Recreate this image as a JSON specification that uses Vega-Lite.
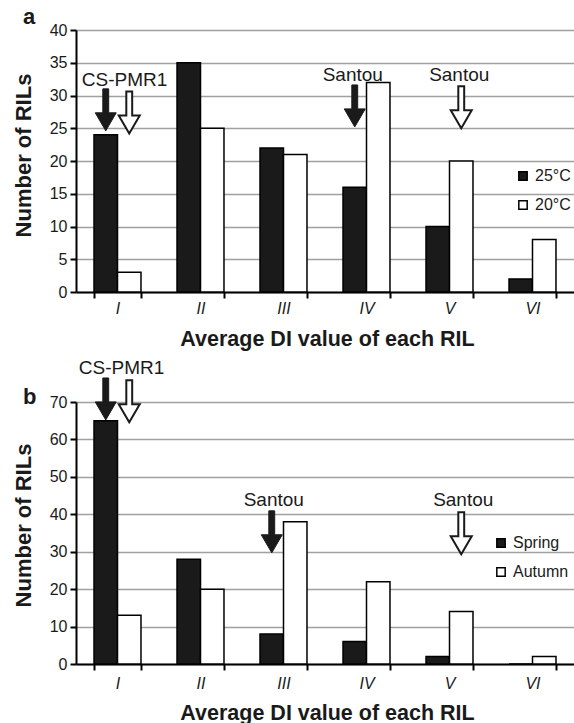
{
  "$schema": "https://vega.github.io/schema/vega-lite/v6.json",
  "background": "white",
  "padding": {"left": 12, "top": 6, "right": 0, "bottom": 0},
  "bounds": "flush",
  "spacing": 110,
  "resolve": {
    "scale": {"x": "independent", "xOffset": "independent", "y": "independent", "fill": "independent"},
    "axis": {"x": "independent", "y": "independent"},
    "legend": {"fill": "independent"}
  },
  "config": {
    "font": "Liberation Sans",
    "view": {"stroke": null},
    "axis": {
      "domainColor": "black", "domainWidth": 2, "tickColor": "black", "tickWidth": 2, "tickSize": 6,
      "labelColor": "#1a1a1a", "titleColor": "#1a1a1a", "labelFontSize": 16, "labelFont": "Liberation Sans", "titleFont": "Liberation Sans"
    },
    "legend": {
      "orient": "none", "title": null, "symbolType": "square", "symbolSize": 70, "symbolStrokeColor": "black",
      "symbolStrokeWidth": 1.5, "labelFontSize": 16, "labelColor": "#1a1a1a", "rowPadding": 13, "labelOffset": 4
    }
  },
  "vconcat": [
    {
      "width": 498, "height": 262,
      "title": {"text": "a", "anchor": "start", "frame": "group", "dx": -53, "offset": -24, "fontSize": 22, "fontWeight": "bold", "baseline": "alphabetic", "color": "#1a1a1a"},
      "encoding": {
        "x": {"field": "cls", "type": "nominal", "sort": ["I", "II", "III", "IV", "V", "VI"],
          "scale": {"paddingInner": 0.434, "paddingOuter": 0.217},
          "axis": {"title": "Average DI value of each RIL", "titleFontSize": 21.5, "titleFontWeight": "bold", "titlePadding": 12, "titleX": 251,
            "labelFontStyle": "italic", "labelAngle": 0, "labelPadding": 2, "tickBand": "extent", "grid": false}},
        "y": {"field": "count", "type": "quantitative", "scale": {"domain": [0, 40], "nice": false},
          "axis": {"title": "Number of RILs", "titleFontSize": 22, "titleFontWeight": "bold", "titlePadding": 14, "titleY": 125,
            "values": [0, 5, 10, 15, 20, 25, 30, 35, 40], "labelOverlap": false, "labelPadding": 3, "grid": true, "gridColor": "#a0a0a0", "gridWidth": 1.5}}
      },
      "layer": [
        {
          "data": {"values": [
            {"cls": "I", "series": "25°C", "count": 24}, {"cls": "I", "series": "20°C", "count": 3},
            {"cls": "II", "series": "25°C", "count": 35}, {"cls": "II", "series": "20°C", "count": 25},
            {"cls": "III", "series": "25°C", "count": 22}, {"cls": "III", "series": "20°C", "count": 21},
            {"cls": "IV", "series": "25°C", "count": 16}, {"cls": "IV", "series": "20°C", "count": 32},
            {"cls": "V", "series": "25°C", "count": 10}, {"cls": "V", "series": "20°C", "count": 20},
            {"cls": "VI", "series": "25°C", "count": 2}, {"cls": "VI", "series": "20°C", "count": 8}
          ]},
          "mark": {"type": "bar", "stroke": "black", "strokeWidth": 1.5},
          "encoding": {
            "xOffset": {"field": "series", "type": "nominal", "sort": ["25°C", "20°C"], "scale": {"paddingInner": 0, "paddingOuter": 0}},
            "fill": {"field": "series", "type": "nominal", "sort": ["25°C", "20°C"],
              "scale": {"domain": ["25°C", "20°C"], "range": ["#1a1a1a", "white"]},
              "legend": {"legendX": 439, "legendY": 138}}
          }
        },
        {
          "data": {"values": [{"cls": "I", "series": "25°C", "count": 24.6}, {"cls": "IV", "series": "25°C", "count": 25.2}]},
          "mark": {"type": "point", "shape": "M -0.14 -2 L 0.14 -2 L 0.14 -0.86 L 0.5 -0.86 L 0 0 L -0.5 -0.86 L -0.14 -0.86 Z",
            "size": 1764, "filled": true, "fill": "#1a1a1a", "stroke": "#1a1a1a", "strokeWidth": 1, "opacity": 1},
          "encoding": {
            "xOffset": {"field": "series", "type": "nominal", "sort": ["25°C", "20°C"]}
          }
        },
        {
          "data": {"values": [{"cls": "I", "series": "20°C", "count": 24.2}, {"cls": "V", "series": "20°C", "count": 25.0}]},
          "mark": {"type": "point", "shape": "M -0.14 -2 L 0.14 -2 L 0.14 -0.86 L 0.5 -0.86 L 0 0 L -0.5 -0.86 L -0.14 -0.86 Z",
            "size": 1764, "filled": true, "fill": "white", "stroke": "#1a1a1a", "strokeWidth": 2, "opacity": 1},
          "encoding": {
            "xOffset": {"field": "series", "type": "nominal", "sort": ["25°C", "20°C"]}
          }
        },
        {
          "data": {"values": [{"cls": "I", "count": 32.4, "label": "CS-PMR1"}]},
          "mark": {"type": "text", "fontSize": 19, "baseline": "middle", "align": "center", "dx": 7, "color": "#1a1a1a"},
          "encoding": {
            "text": {"field": "label"}
          }
        },
        {
          "data": {"values": [{"cls": "IV", "series": "25°C", "count": 33.2, "label": "Santou"}, {"cls": "V", "series": "20°C", "count": 33.2, "label": "Santou"}]},
          "mark": {"type": "text", "fontSize": 19, "baseline": "middle", "align": "center", "dx": -2, "color": "#1a1a1a"},
          "encoding": {
            "xOffset": {"field": "series", "type": "nominal", "sort": ["25°C", "20°C"]},
            "text": {"field": "label"}
          }
        }
      ]
    },
    {
      "width": 498, "height": 262,
      "title": {"text": "b", "anchor": "start", "frame": "group", "dx": -53, "offset": -67, "fontSize": 22, "fontWeight": "bold", "baseline": "alphabetic", "color": "#1a1a1a"},
      "encoding": {
        "x": {"field": "cls", "type": "nominal", "sort": ["I", "II", "III", "IV", "V", "VI"],
          "scale": {"paddingInner": 0.434, "paddingOuter": 0.217},
          "axis": {"title": "Average DI value of each RIL", "titleFontSize": 21.5, "titleFontWeight": "bold", "titlePadding": 11, "titleX": 251,
            "labelFontStyle": "italic", "labelAngle": 0, "labelPadding": 5, "tickBand": "extent", "grid": false}},
        "y": {"field": "count", "type": "quantitative", "scale": {"domain": [0, 70], "nice": false},
          "axis": {"title": "Number of RILs", "titleFontSize": 22, "titleFontWeight": "bold", "titlePadding": 14, "titleY": 123,
            "values": [0, 10, 20, 30, 40, 50, 60, 70], "labelOverlap": false, "labelPadding": 3, "grid": true, "gridColor": "#a0a0a0", "gridWidth": 1.5}}
      },
      "layer": [
        {
          "data": {"values": [
            {"cls": "I", "series": "Spring", "count": 65}, {"cls": "I", "series": "Autumn", "count": 13},
            {"cls": "II", "series": "Spring", "count": 28}, {"cls": "II", "series": "Autumn", "count": 20},
            {"cls": "III", "series": "Spring", "count": 8}, {"cls": "III", "series": "Autumn", "count": 38},
            {"cls": "IV", "series": "Spring", "count": 6}, {"cls": "IV", "series": "Autumn", "count": 22},
            {"cls": "V", "series": "Spring", "count": 2}, {"cls": "V", "series": "Autumn", "count": 14},
            {"cls": "VI", "series": "Spring", "count": 0}, {"cls": "VI", "series": "Autumn", "count": 2}
          ]},
          "mark": {"type": "bar", "stroke": "black", "strokeWidth": 1.5},
          "encoding": {
            "xOffset": {"field": "series", "type": "nominal", "sort": ["Spring", "Autumn"], "scale": {"paddingInner": 0, "paddingOuter": 0}},
            "fill": {"field": "series", "type": "nominal", "sort": ["Spring", "Autumn"],
              "scale": {"domain": ["Spring", "Autumn"], "range": ["#1a1a1a", "white"]},
              "legend": {"legendX": 417, "legendY": 133}}
          }
        },
        {
          "data": {"values": [{"cls": "I", "series": "Spring", "count": 65.2}, {"cls": "III", "series": "Spring", "count": 29.7}]},
          "mark": {"type": "point", "shape": "M -0.14 -2 L 0.14 -2 L 0.14 -0.86 L 0.5 -0.86 L 0 0 L -0.5 -0.86 L -0.14 -0.86 Z",
            "size": 1764, "filled": true, "fill": "#1a1a1a", "stroke": "#1a1a1a", "strokeWidth": 1, "opacity": 1},
          "encoding": {
            "xOffset": {"field": "series", "type": "nominal", "sort": ["Spring", "Autumn"]}
          }
        },
        {
          "data": {"values": [{"cls": "I", "series": "Autumn", "count": 64.6}, {"cls": "V", "series": "Autumn", "count": 29.3}]},
          "mark": {"type": "point", "shape": "M -0.14 -2 L 0.14 -2 L 0.14 -0.86 L 0.5 -0.86 L 0 0 L -0.5 -0.86 L -0.14 -0.86 Z",
            "size": 1764, "filled": true, "fill": "white", "stroke": "#1a1a1a", "strokeWidth": 2, "opacity": 1},
          "encoding": {
            "xOffset": {"field": "series", "type": "nominal", "sort": ["Spring", "Autumn"]}
          }
        },
        {
          "data": {"values": [{"cls": "I", "count": 79.1, "label": "CS-PMR1"}]},
          "mark": {"type": "text", "fontSize": 19, "baseline": "middle", "align": "center", "dx": 4, "color": "#1a1a1a"},
          "encoding": {
            "text": {"field": "label"}
          }
        },
        {
          "data": {"values": [{"cls": "III", "series": "Spring", "count": 43.8, "label": "Santou"}, {"cls": "V", "series": "Autumn", "count": 43.8, "label": "Santou"}]},
          "mark": {"type": "text", "fontSize": 19, "baseline": "middle", "align": "center", "dx": 2, "color": "#1a1a1a"},
          "encoding": {
            "xOffset": {"field": "series", "type": "nominal", "sort": ["Spring", "Autumn"]},
            "text": {"field": "label"}
          }
        }
      ]
    }
  ]
}
